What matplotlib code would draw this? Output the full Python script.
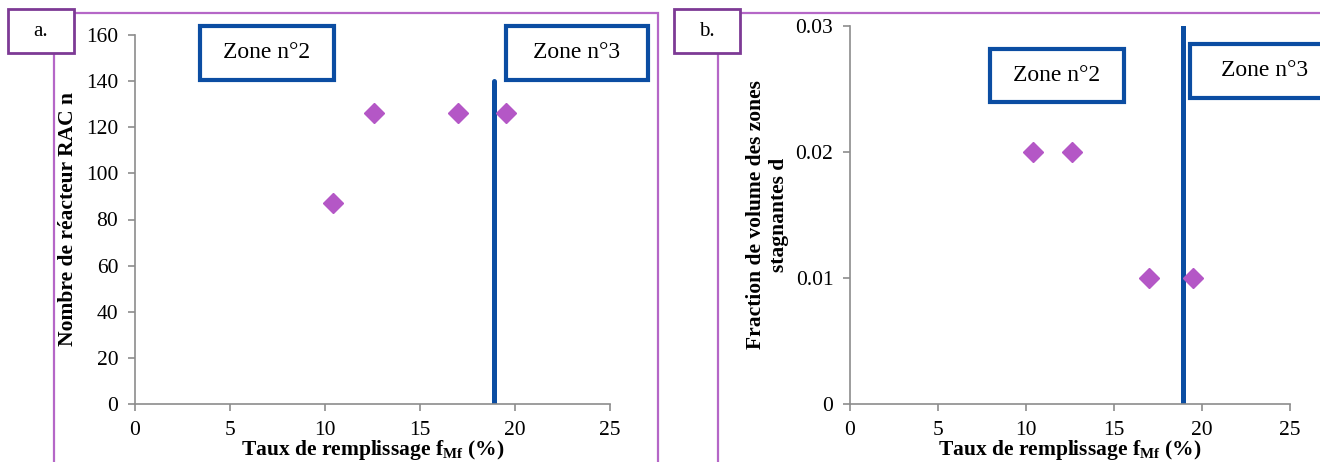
import matplotlib.pyplot as plt
from matplotlib.patches import Rectangle

plt.rcParams['font.family'] = ['Liberation Serif', 'DejaVu Serif']
plt.rcParams['mathtext.fontset'] = 'custom'
plt.rcParams['mathtext.rm'] = 'Liberation Serif'
plt.rcParams['mathtext.bf'] = 'Liberation Serif:bold'

# data
taux = [10.4, 12.6, 17.0, 19.5]
n_rac = [87, 126, 126, 126]
frac_d = [0.02, 0.02, 0.01, 0.01]
limite_zone = 18.9
limite_a_haut = 140

xlabel = r"Taux de remplissage $\mathbf{f_{Mf}}$ (%)"
ylabel_a = "Nombre de réacteur RAC n"
ylabel_b = "Fraction de volume des zones\nstagnantes d"

W, H = 1320, 462
PURPLE = "#B567C7"
DARKPURPLE = "#7D3A95"
BLUE = "#0B4DA2"
MARK = "#B457C6"
GREY = "#8C8C8C"

fig = plt.figure(figsize=(W / 100, H / 100), dpi=100)

def px(x0, y0, x1, y1):
    # pixel box -> figure fraction (left, bottom, width, height)
    return [x0 / W, 1 - y1 / H, (x1 - x0) / W, (y1 - y0) / H]

def rect(x0, y0, x1, y1, ec, lw, fc="none", z=1):
    l, b, w, h = px(x0, y0, x1, y1)
    fig.patches.append(Rectangle((l, b), w, h, transform=fig.transFigure,
                                 fill=(fc != "none"), facecolor=fc, edgecolor=ec,
                                 linewidth=lw, zorder=z))

def label_box(x0, y0, x1, y1, txt):
    rect(x0, y0, x1, y1, DARKPURPLE, 2.0, fc="white", z=3)
    fig.text((x0 + x1) / 2 / W, 1 - (y0 + y1) / 2 / H, txt, ha="center", va="center",
             fontsize=15, zorder=4)

def zone_box(x0, y0, x1, y1, txt):
    rect(x0, y0, x1, y1, BLUE, 3.0, fc="white", z=3)
    fig.text((x0 + x1) / 2 / W, 1 - (y0 + y1) / 2 / H, txt, ha="center", va="center",
             fontsize=17, zorder=4)

# outer frames
rect(54, 13, 658, 480, PURPLE, 1.6)
rect(718, 13, 1340, 480, PURPLE, 1.6)
label_box(8, 9, 74, 53, "a.")
label_box(674, 9, 740, 53, "b.")

def style(ax):
    for s in ("top", "right"):
        ax.spines[s].set_visible(False)
    for s in ("left", "bottom"):
        ax.spines[s].set_color(GREY)
        ax.spines[s].set_linewidth(1.2)
    ax.tick_params(direction="out", length=5, width=1.2, color=GREY,
                   labelsize=15.5, pad=7)
    ax.set_xlim(0, 25)
    ax.set_xticks([0, 5, 10, 15, 20, 25])
    ax.set_xlabel(xlabel, fontsize=15.5, fontweight="bold", labelpad=-1)
    ax.patch.set_alpha(0)

# panel a
ax1 = fig.add_axes(px(135, 35, 610, 404))
style(ax1)
ax1.set_ylim(0, 160)
ax1.set_yticks(range(0, 161, 20))
ax1.plot([limite_zone, limite_zone], [0, limite_a_haut], color=BLUE, lw=3.6,
         solid_capstyle="round", zorder=2)
ax1.plot(taux, n_rac, "D", color=MARK, ms=10, zorder=3, clip_on=False)
ax1.set_ylabel(ylabel_a, fontsize=15.5, fontweight="bold", labelpad=6)
zone_box(200, 26, 334, 80, "Zone n°2")
zone_box(506, 26, 648, 80, "Zone n°3")

# panel b
ax2 = fig.add_axes(px(850, 26, 1290, 404))
style(ax2)
ax2.set_ylim(0, 0.03)
ax2.set_yticks([0, 0.01, 0.02, 0.03])
ax2.set_yticklabels(["0", "0.01", "0.02", "0.03"])
ax2.axvline(limite_zone, color=BLUE, lw=3.6, zorder=2)
ax2.plot(taux, frac_d, "D", color=MARK, ms=10, zorder=3, clip_on=False)
ax2.set_ylabel(ylabel_b, fontsize=15.5, fontweight="bold", labelpad=5,
               linespacing=1.15)
zone_box(990, 49, 1124, 102, "Zone n°2")
zone_box(1190, 44, 1340, 98, "Zone n°3")

fig.savefig("out.png", dpi=100)
